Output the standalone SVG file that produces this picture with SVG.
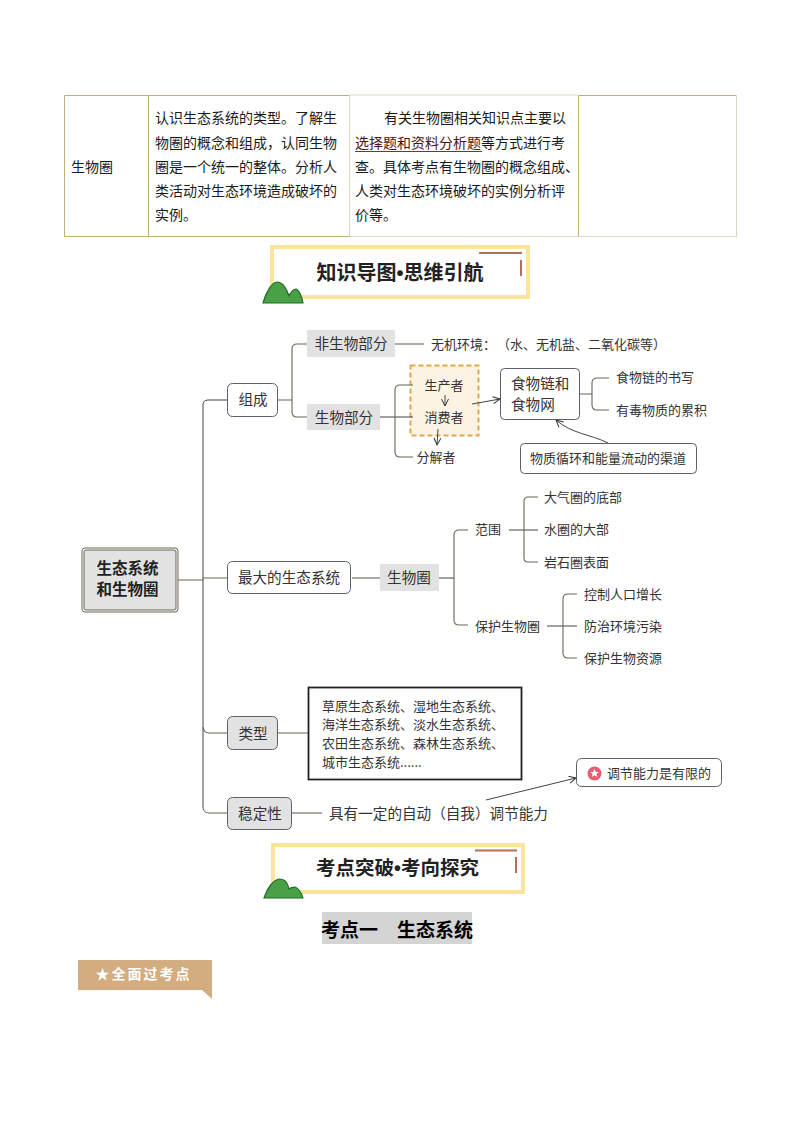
<svg xmlns="http://www.w3.org/2000/svg" width="794" height="1123" viewBox="0 0 794 1123">
<defs>
<style>
text{font-family:"Noto Sans CJK SC","Liberation Sans",sans-serif;fill:#222}
.t13{font-size:14px;fill:#1a1a1a}
.t12{font-size:13px;fill:#333}
.t14{font-size:14.6px;fill:#333}
.m{text-anchor:middle}
.grid{stroke:#bfae7c;stroke-width:1;fill:none}
.grid2{stroke:#ddd6c0;stroke-width:1;fill:none}
.c{fill:none;stroke:#6b6555;stroke-width:1.1}
.c2{fill:none;stroke:#444;stroke-width:1}
.box{fill:#fff;stroke:#59626a;stroke-width:1}
.gbox{fill:#e2e2e2;stroke:#59626a;stroke-width:1}
.lab{fill:#e2e2e2}
.banner{fill:#fff;stroke:#fbe59c;stroke-width:4}
.accent{stroke:#b8704e;stroke-width:2;fill:none}
.hill{fill:#4aa046;stroke:#1f6b24;stroke-width:1.2}
.h{font-size:20px;font-weight:700;fill:#222;text-anchor:middle}
.dot{font-family:"Liberation Sans",sans-serif}
</style>
<marker id="a" markerWidth="10" markerHeight="10" refX="8" refY="4" orient="auto" markerUnits="userSpaceOnUse"><path d="M1 0.5L8 4L1 7.5" fill="none" stroke="#333" stroke-width="1"/></marker>
</defs>
<rect width="794" height="1123" fill="#fff"/>

<g id="table">
<path class="grid" d="M64.500 95.500H349M64.500 95.500V236.500H349M148.500 95.500V236.500M578.500 95.500H736.500M578.500 95.500V236.500"/>
<path class="grid2" d="M349 236.500H736.500V95.500M349.500 95H578.500M349.500 95V236.500"/>
<text class="t13" x="71" y="172">生物圈</text>
<text class="t13" x="155" y="123">认识生态系统的类型。了解生</text>
<text class="t13" x="155" y="148">物圈的概念和组成，认同生物</text>
<text class="t13" x="155" y="172">圈是一个统一的整体。分析人</text>
<text class="t13" x="155" y="196">类活动对生态环境造成破坏的</text>
<text class="t13" x="155" y="220">实例。</text>
<text class="t13" x="384" y="123">有关生物圈相关知识点主要以</text>
<text class="t13" x="355" y="148"><tspan fill="#4a1410">选择题和资料分析题</tspan>等方式进行考</text>
<text class="t13" x="355" y="172">查。具体考点有生物圈的概念组成、</text>
<text class="t13" x="355" y="196">人类对生态环境破坏的实例分析评</text>
<text class="t13" x="355" y="220">价等。</text>
<path d="M355 151.500H482" stroke="#8a2b2b" stroke-width="1" fill="none"/>
</g>

<g id="banner1">
<rect class="banner" x="272" y="247" width="256" height="50"/>
<path class="accent" d="M479 253H522M521 260V276"/>
<path class="hill" d="M263 303C266 292 272 282 277 282C283 282 287 290 289 296C291 292 294 289 296 289C299 290 302 297 303 303Z"/>
<text class="h" x="400" y="280">知识导图<tspan class="dot">•</tspan>思维引航</text>
</g>

<g id="connectors">
<path class="c" d="M178 580H203M203 578H227"/>
<path class="c2" d="M203 808V405Q203 400 208 400H227"/>
<path class="c" d="M203 727Q204 733 209 733H227M203 808Q204 813 209 813H227"/>
<path class="c" d="M278 400H292M292 400V349Q292 344 297 344H307M292 400V412Q292 417 297 417H307"/>
<path class="c" d="M395 344H424"/>
<path class="c" d="M555 394H592M592 394V383Q592 378 597 378H609M592 394V405Q592 410 597 410H609"/>
<path class="c" d="M352 578H380"/>
<path class="c2" d="M438 578H454"/>
<path class="c" d="M459 530Q454 530 454 535V620Q454 625 459 625H468M459 530H468"/>
<path class="c2" d="M509 530H538"/>
<path class="c" d="M538 497H528Q524 497 524 502V558Q524 562 528 562H538"/>
<path class="c2" d="M547 626H577"/>
<path class="c" d="M577 594H568Q563 594 563 599V653Q563 658 568 658H577"/>
<path class="c" d="M278 733H316"/>
<path class="c" d="M292 813H322"/>
<path class="c2" d="M608 443C590 434 572 434 556 420" marker-end="url(#a)"/>
<path class="c2" d="M486 800L576 778" marker-end="url(#a)"/>
</g>

<g id="root"><rect x="82" y="548" width="96" height="64" rx="3" fill="#fff" stroke="#6b6555" stroke-width="1"/><rect x="84" y="550" width="92" height="60" rx="2" fill="#e2e2e2" stroke="#6b6555" stroke-width="1"/><text x="127.500" y="574" class="m" style="font-size:15.500px;font-weight:700">生态系统</text><text x="127.500" y="595" class="m" style="font-size:15.500px;font-weight:700">和生物圈</text></g>

<g id="n-zucheng"><rect class="box" x="227.500" y="383.500" width="50" height="33" rx="5"/><text class="t14 m" x="253" y="405">组成</text></g>
<g id="n-feisw"><rect class="lab" x="307" y="330" width="88" height="27"/><text class="t14 m" x="351" y="349">非生物部分</text></g>
<g id="n-wuji"><text class="t12" x="431" y="349">无机环境：</text><text class="t12" x="497" y="349">（水、无机盐、二氧化碳等）</text></g>
<g id="n-swbf"><rect class="lab" x="307" y="404" width="73" height="26"/><text class="t14 m" x="344" y="423">生物部分</text></g>
<g id="n-dash"><rect x="410.500" y="365.500" width="68" height="70" fill="#fdf3e5" stroke="#e0a94c" stroke-width="2" stroke-dasharray="5 3"/><text class="t12 m" x="444" y="390">生产者</text><text class="t12 m" x="444" y="422">消费者</text></g>
<g id="connectors-over">
<path class="c2" d="M380 417H413"/>
<path class="c" d="M413 385H400Q395 385 395 390V452Q395 457 400 457H413"/>
<path class="c2" d="M472 404L500 399" marker-end="url(#a)"/>
<path class="c2" d="M445 395V406" marker-end="url(#a)"/>
<path class="c2" d="M438 429L437 445" marker-end="url(#a)"/>
</g>
<g id="n-fenjie"><text class="t12 m" x="436" y="462">分解者</text></g>
<g id="n-shiwu"><rect class="box" x="500.500" y="368.500" width="79" height="51" rx="4"/><text class="t14" x="511" y="389">食物链和</text><text class="t14" x="511" y="410">食物网</text></g>
<g id="n-shuxie"><text class="t12" x="616" y="382">食物链的书写</text></g>
<g id="n-leiji"><text class="t12" x="616" y="415">有毒物质的累积</text></g>
<g id="n-qudao"><rect class="box" x="520.500" y="443.500" width="176" height="30" rx="4"/><text class="t12 m" x="608" y="463">物质循环和能量流动的渠道</text></g>

<g id="n-zuida"><rect class="box" x="227.500" y="561.500" width="123" height="32" rx="5"/><text class="t14 m" x="289" y="583">最大的生态系统</text></g>
<g id="n-swq"><rect class="lab" x="380" y="564" width="59" height="27"/><text class="t14 m" x="409" y="583">生物圈</text></g>
<g id="n-fanwei"><text class="t12" x="475" y="534">范围</text></g>
<g id="n-a1"><text class="t12" x="544" y="502">大气圈的底部</text></g>
<g id="n-a2"><text class="t12" x="544" y="534">水圈的大部</text></g>
<g id="n-a3"><text class="t12" x="544" y="567">岩石圈表面</text></g>
<g id="n-baohu"><text class="t12" x="475" y="631">保护生物圈</text></g>
<g id="n-b1"><text class="t12" x="584" y="599">控制人口增长</text></g>
<g id="n-b2"><text class="t12" x="584" y="631">防治环境污染</text></g>
<g id="n-b3"><text class="t12" x="584" y="663">保护生物资源</text></g>

<g id="n-leixing"><rect class="gbox" x="227.500" y="716.500" width="50" height="33" rx="5"/><text class="t14 m" x="253" y="739">类型</text></g>
<g id="n-types"><rect x="308.500" y="687.500" width="213" height="92" fill="#fff" stroke="#222" stroke-width="1.800"/>
<text class="t12" x="322" y="711">草原生态系统、湿地生态系统、</text><text class="t12" x="322" y="729">海洋生态系统、淡水生态系统、</text><text class="t12" x="322" y="748">农田生态系统、森林生态系统、</text><text class="t12" x="322" y="767">城市生态系统......</text></g>
<g id="n-wending"><rect class="gbox" x="227.500" y="797.500" width="64" height="32" rx="5"/><text class="t14 m" x="260" y="819">稳定性</text></g>
<g id="n-zidong"><text class="t14" x="329" y="819">具有一定的自动（自我）调节能力</text></g>
<g id="n-youxian"><rect class="box" x="576.500" y="758.500" width="145" height="28" rx="5"/><circle cx="594.500" cy="773.500" r="7" fill="#e85d71"/><path d="M594.500 769L595.800 772H598.900L596.400 773.900L597.300 777L594.500 775.200L591.700 777L592.600 773.900L590.100 772H593.200Z" fill="#fff"/><text class="t12" x="607" y="778">调节能力是有限的</text></g>

<g id="banner2">
<rect class="banner" x="273" y="845" width="250" height="47"/>
<path class="accent" d="M475 850.500H517M516 857V873"/>
<path class="hill" d="M264 898C267 888 274 879 280 879C285 879 288 884 289 889C291 887 294 887 295 887C298 888 302 893 303 898Z"/>
<text class="h" x="397.500" y="875" style="font-size:19.500px">考点突破<tspan class="dot">•</tspan>考向探究</text>
</g>

<g id="heading"><rect x="322" y="912" width="150" height="32" fill="#d4d4d4"/><text x="397" y="937" class="m" style="font-size:19px;font-weight:700;fill:#000">考点一　生态系统</text></g>

<g id="tag"><path d="M78 960H212V999L202 990H78Z" fill="#d3ad7f"/><text x="143.500" y="979" class="m" style="font-size:14px;font-weight:700;fill:#fff;letter-spacing:2px">★全面过考点</text></g>
</svg>
